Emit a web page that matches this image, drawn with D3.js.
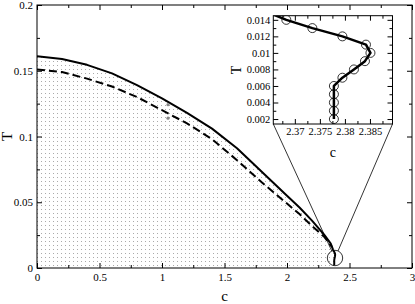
<!DOCTYPE html>
<html>
<head>
<meta charset="utf-8">
<script src="https://cdn.jsdelivr.net/npm/d3@7"></script>
<style>
	body { margin: 0; background: #fff; }
	svg { display: block; }
	text { font-family: "Liberation Serif", "DejaVu Serif", serif; fill: #000; }
	.tick text { font-size: 11px; }
	.inset .tick text { font-size: 10.5px; }
</style>
</head>
<body>
<svg id="chart" width="415" height="304"></svg>
<script>

// main curves (c, T)
var solidC = [0, 0.2, 0.4, 0.6, 0.8, 1.0, 1.2, 1.4, 1.6, 1.8, 2.0, 2.1, 2.2, 2.3, 2.35];
var solidT = [0.161, 0.159, 0.1545, 0.148, 0.139, 0.129, 0.118, 0.106, 0.091, 0.073, 0.055, 0.046, 0.036, 0.025, 0.0185];

var dashedC = [0, 0.2, 0.4, 0.6, 0.8, 1.0, 1.2, 1.4, 1.6, 1.8, 2.0, 2.1, 2.2, 2.3, 2.36];
var dashedT = [0.151, 0.149, 0.144, 0.138, 0.13, 0.12, 0.11, 0.098, 0.082, 0.065, 0.049, 0.041, 0.032, 0.0235, 0.016];

// low temperature points (inset circles), also the tail of the solid curve
var tailC = [2.3683, 2.3735, 2.3795, 2.3842, 2.3851, 2.384, 2.3818, 2.3795, 2.3778, 2.3778, 2.3778, 2.3778, 2.3778];
var tailT = [0.014, 0.013, 0.012, 0.011, 0.010, 0.009, 0.008, 0.007, 0.006, 0.005, 0.004, 0.003, 0.002];

// two grey points
var greyC = [1.048, 1.048];
var greyT = [0.1242, 0.1139];

// zoom marker
var markC = [2.384];
var markT = [0.0076];

// ticks
var mainXTicks = [0, 0.5, 1, 1.5, 2, 2.5, 3];
var mainXMinor = [0.25, 0.75, 1.25, 1.75, 2.25, 2.75];
var mainYTicks = [0, 0.05, 0.1, 0.15, 0.2];
var mainYMinor = [0.025, 0.075, 0.125, 0.175];
var insetXTicks = [2.37, 2.375, 2.38, 2.385];
var insetXMinor = [2.3675, 2.3725, 2.3775, 2.3825, 2.3875];
var insetYTicks = [0.002, 0.004, 0.006, 0.008, 0.01, 0.012, 0.014];
var insetYMinor = [0.003, 0.005, 0.007, 0.009, 0.011, 0.013];


var svg = d3.select("#chart");

var solidData = solidC.map((c, i) => [c, solidT[i]]).concat(tailC.map((c, i) => [c, tailT[i]]));
var dashedData = dashedC.map((c, i) => [c, dashedT[i]]);
var tailData = tailC.map((c, i) => [c, tailT[i]]);

// main scales
var x = d3.scaleLinear().domain([0, 3]).range([37, 412]);
var y = d3.scaleLinear().domain([0, 0.2]).range([268, 5]);

// stipple pattern
var defs = svg.append("defs");
var pat = defs.append("pattern")
	.attr("id", "dots")
	.attr("patternUnits", "userSpaceOnUse")
	.attr("width", 4)
	.attr("height", 4);
pat.append("rect").attr("x", 1).attr("y", 1).attr("width", 1).attr("height", 1).attr("fill", "#aaa");

defs.append("clipPath").attr("id", "mainClip")
	.append("rect").attr("x", x(0)).attr("y", y(0.2)).attr("width", x(3) - x(0)).attr("height", y(0) - y(0.2));

var plot = svg.append("g").attr("clip-path", "url(#mainClip)");

plot.append("path")
	.datum(solidData)
	.attr("fill", "url(#dots)")
	.attr("d", d3.area().x(d => x(d[0])).y0(y(0)).y1(d => y(d[1])));

plot.append("path")
	.datum(dashedData)
	.attr("fill", "none")
	.attr("stroke", "#000")
	.attr("stroke-width", 2)
	.attr("stroke-dasharray", "8,4")
	.attr("d", d3.line().x(d => x(d[0])).y(d => y(d[1])));

plot.append("path")
	.datum(solidData)
	.attr("fill", "none")
	.attr("stroke", "#000")
	.attr("stroke-width", 2)
	.attr("stroke-linejoin", "round")
	.attr("d", d3.line().x(d => x(d[0])).y(d => y(d[1])));

plot.selectAll(".grey")
	.data(greyC)
	.enter().append("circle")
	.attr("class", "grey")
	.attr("cx", d => x(d))
	.attr("cy", (d, i) => y(greyT[i]))
	.attr("r", 1.6)
	.attr("fill", "#888");

// axes, ticks inward on all sides
function tickAxis(axis, scale, major, minor, size, minorSize, fmt, pad) {
	var g = svg.append("g");
	g.append("g").call(axis(scale).tickValues(major).tickSizeInner(-size).tickSizeOuter(0).tickPadding(pad).tickFormat(fmt));
	g.append("g").call(axis(scale).tickValues(minor).tickSizeInner(-minorSize).tickSizeOuter(0).tickFormat(""));
	g.selectAll(".domain").remove();
	g.selectAll(".tick line").attr("stroke", "#000");
	return g;
}

tickAxis(d3.axisBottom, x, mainXTicks, mainXMinor, 5, 3, d => d, 5).attr("transform", "translate(0," + y(0) + ")");
tickAxis(d3.axisTop, x, mainXTicks, mainXMinor, 5, 3, "", 0).attr("transform", "translate(0," + y(0.2) + ")");
tickAxis(d3.axisLeft, y, mainYTicks, mainYMinor, 5, 3, d => d, 4).attr("transform", "translate(" + x(0) + ",0)");
tickAxis(d3.axisRight, y, mainYTicks, mainYMinor, 5, 3, "", 0).attr("transform", "translate(" + x(3) + ",0)");

svg.append("rect")
	.attr("x", x(0)).attr("y", y(0.2))
	.attr("width", x(3) - x(0)).attr("height", y(0) - y(0.2))
	.attr("fill", "none").attr("stroke", "#000");

svg.append("text")
	.attr("x", (x(0) + x(3)) / 2).attr("y", 301)
	.attr("text-anchor", "middle").attr("font-size", 15)
	.text("c");
svg.append("text")
	.attr("transform", "translate(12," + ((y(0) + y(0.2)) / 2) + ") rotate(-90)")
	.attr("text-anchor", "middle").attr("font-size", 15)
	.text("T");

// inset
var xi = d3.scaleLinear().domain([2.3657, 2.3895]).range([273.3, 392.5]);
var yi = d3.scaleLinear().domain([0.0014, 0.0145]).range([124, 15.7]);

// zoom circle and connecting lines
var mx = x(markC[0]), my = y(markT[0]), mr = 7.7;
svg.append("circle")
	.attr("cx", mx).attr("cy", my).attr("r", mr)
	.attr("fill", "none").attr("stroke", "#000").attr("stroke-width", 0.8);

[xi.range()[0], xi.range()[1]].forEach(function(cx) {
	var cy = yi.range()[0];
	var dx = mx - cx, dy = my - cy, len = Math.sqrt(dx * dx + dy * dy);
	svg.append("line")
		.attr("x1", cx).attr("y1", cy)
		.attr("x2", mx - dx / len * mr).attr("y2", my - dy / len * mr)
		.attr("stroke", "#000").attr("stroke-width", 0.8);
});

var inset = svg.append("g").attr("class", "inset");

inset.append("rect")
	.attr("x", xi.range()[0]).attr("y", yi.range()[1])
	.attr("width", xi.range()[1] - xi.range()[0]).attr("height", yi.range()[0] - yi.range()[1])
	.attr("fill", "#fff");

defs.append("clipPath").attr("id", "insetClip")
	.append("rect")
	.attr("x", xi.range()[0]).attr("y", yi.range()[1])
	.attr("width", xi.range()[1] - xi.range()[0]).attr("height", yi.range()[0] - yi.range()[1]);

var ip = inset.append("g").attr("clip-path", "url(#insetClip)");

ip.append("path")
	.datum(solidData)
	.attr("fill", "none")
	.attr("stroke", "#000")
	.attr("stroke-width", 2.5)
	.attr("stroke-linejoin", "round")
	.attr("d", d3.line().x(d => xi(d[0])).y(d => yi(d[1])));

ip.selectAll(".pt")
	.data(tailData)
	.enter().append("circle")
	.attr("class", "pt")
	.attr("cx", d => xi(d[0]))
	.attr("cy", d => yi(d[1]))
	.attr("r", 4.5)
	.attr("fill", "none")
	.attr("stroke", "#000")
	.attr("stroke-width", 0.8);

function insetAxis(axis, scale, major, minor, fmt, pad) {
	var g = inset.append("g");
	g.append("g").call(axis(scale).tickValues(major).tickSizeInner(-5).tickSizeOuter(0).tickPadding(pad).tickFormat(fmt));
	g.append("g").call(axis(scale).tickValues(minor).tickSizeInner(-3).tickSizeOuter(0).tickFormat(""));
	g.selectAll(".domain").remove();
	g.selectAll(".tick line").attr("stroke", "#000");
	return g;
}

insetAxis(d3.axisBottom, xi, insetXTicks, insetXMinor, d => d, 4).attr("transform", "translate(0," + yi.range()[0] + ")");
insetAxis(d3.axisTop, xi, insetXTicks, insetXMinor, "", 0).attr("transform", "translate(0," + yi.range()[1] + ")");
insetAxis(d3.axisLeft, yi, insetYTicks, insetYMinor, d => d, 3).attr("transform", "translate(" + xi.range()[0] + ",0)");
insetAxis(d3.axisRight, yi, insetYTicks, insetYMinor, "", 0).attr("transform", "translate(" + xi.range()[1] + ",0)");

inset.append("rect")
	.attr("x", xi.range()[0]).attr("y", yi.range()[1])
	.attr("width", xi.range()[1] - xi.range()[0]).attr("height", yi.range()[0] - yi.range()[1])
	.attr("fill", "none").attr("stroke", "#000");

inset.append("text")
	.attr("x", (xi.range()[0] + xi.range()[1]) / 2).attr("y", 157)
	.attr("text-anchor", "middle").attr("font-size", 14)
	.text("c");
inset.append("text")
	.attr("transform", "translate(241,70) rotate(-90)")
	.attr("text-anchor", "middle").attr("font-size", 14)
	.text("T");

</script>
</body>
</html>
